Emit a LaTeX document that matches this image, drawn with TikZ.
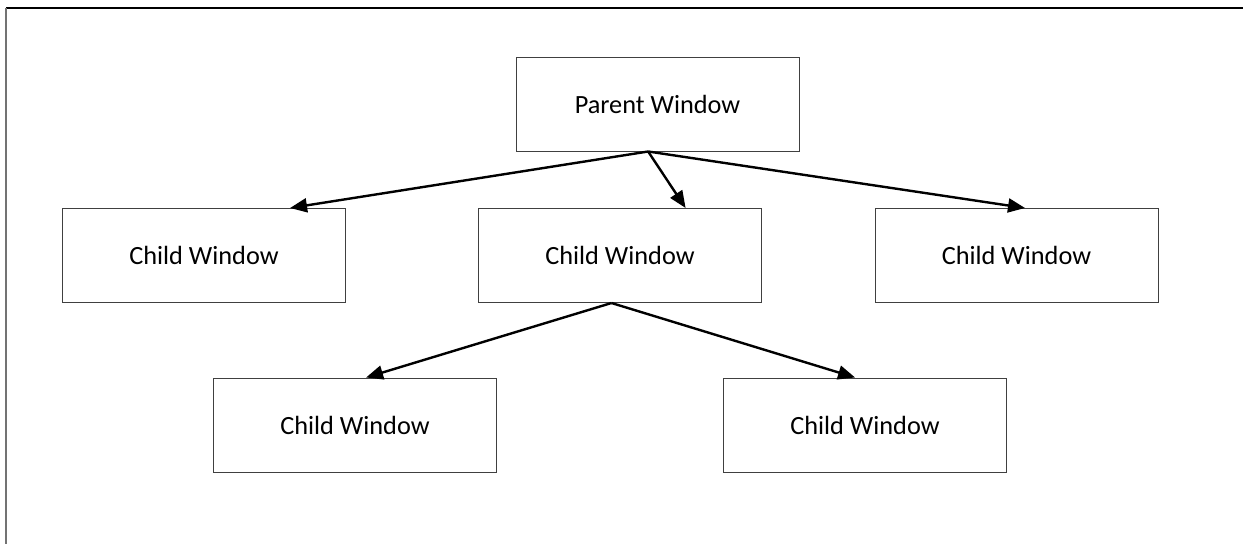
\documentclass[tikz,border=0pt]{standalone}
\usepackage{fontspec}
\setmainfont{Carlito}
\usetikzlibrary{arrows.meta,calc}
\begin{document}
\begin{tikzpicture}[x=1pt,y=-1pt,
  winbox/.style={draw=black!75,line width=1pt,minimum width=283pt,minimum height=94pt,inner sep=0pt,
    font=\fontsize{26.3}{30}\selectfont},
  link/.style={line width=2.4pt,-{Triangle[length=17pt,width=14pt]}}]
\useasboundingbox (0,0) rectangle (1243,544);
\draw[black,line width=1.3pt] (6,8) coordinate (tl) -- (1243,8) coordinate (tr);
\draw[black!55,line width=2.2pt] (6,7.5) coordinate (lt) -- (6,544) coordinate (lb);
\node[winbox] (P) at (657.5,104) {Parent Window};
\node[winbox] (C1) at (204,255.5) {Child Window};
\node[winbox] (C2) at (620,255.5) {Child Window};
\node[winbox] (C3) at (1016.5,255.5) {Child Window};
\node[winbox] (G1) at (355,425) {Child Window};
\node[winbox] (G2) at (865,425) {Child Window};
\coordinate (ps) at ($(P.south west)!0.467!(P.south east)$);
\coordinate (cs) at ($(C2.south west)!0.47!(C2.south east)$);
\draw[link] (ps) -- ($(C1.north west)!0.803!(C1.north east)$);
\draw[link] (ps) -- ($(C2.north west)!0.731!(C2.north east)$);
\draw[link] (ps) -- ($(C3.north west)!0.53!(C3.north east)$);
\draw[link] (cs) -- ($(G1.north west)!0.539!(G1.north east)$);
\draw[link] (cs) -- ($(G2.north west)!0.465!(G2.north east)$);
\end{tikzpicture}
\end{document}
